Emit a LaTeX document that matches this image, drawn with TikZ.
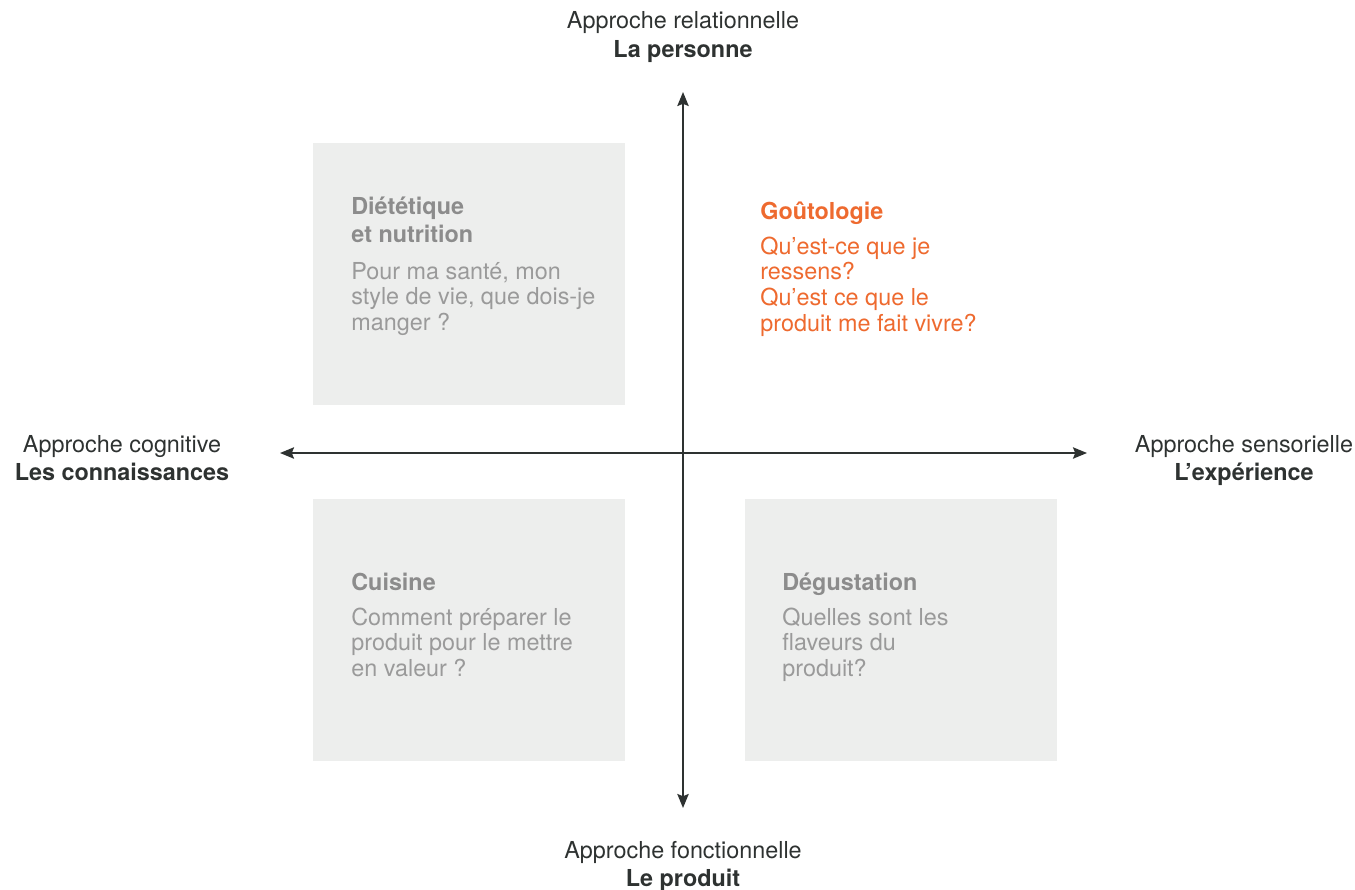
\documentclass[tikz,border=0pt]{standalone}
\usepackage{fontspec}
\setmainfont{TeX Gyre Heros}
\usetikzlibrary{arrows.meta}

\definecolor{encre}{HTML}{2E3231}
\definecolor{grisfond}{HTML}{EDEEED}
\definecolor{gristexte}{HTML}{9A9A9A}
\definecolor{gristitre}{HTML}{8C8C8C}
\definecolor{orangegout}{HTML}{EE6A2F}

% plusieurs lignes, la ligne de base est celle de la premiere
\newcommand{\Lignes}[1]{\begin{tabular}[t]{@{}l@{}}#1\end{tabular}}

\begin{document}
\begin{tikzpicture}[x=0.02cm,y=-0.02cm]
		\tikzstyle{fleche}=[{Stealth[length=8pt,width=6.5pt,inset=1.3pt]}-{Stealth[length=8pt,width=6.5pt,inset=1.3pt]},line width=0.9pt,draw=encre]
		\tikzstyle{quadrant}=[fill=grisfond,minimum width=6.24cm,minimum height=5.24cm,inner sep=0pt]
		\tikzstyle{axe}=[anchor=base,inner sep=0pt,text=encre,font=\fontsize{13.3}{15.6}\selectfont]
		\tikzstyle{axegras}=[axe,font=\fontsize{13.3}{15.6}\selectfont\bfseries]
		\tikzstyle{titre}=[anchor=base west,inner sep=0pt,text=gristitre,font=\fontsize{13.3}{16.4}\selectfont\bfseries]
		\tikzstyle{texte}=[anchor=base west,inner sep=0pt,text=gristexte,font=\fontsize{13.3}{14.75}\selectfont]
		
		\useasboundingbox (0,0) rectangle (1355,889);
		
		\def\CentreX{683}
		\def\CentreY{453}
		
		% les trois cases grises
		\node[quadrant] (Dietetique) at (469,274) {};
		\node[quadrant] (Cuisine) at (469,630) {};
		\node[quadrant] (Degustation) at (901,630) {};
		
		% les axes
		\coordinate (Haut) at (\CentreX,92);
		\coordinate (Bas) at (\CentreX,808);
		\coordinate (Gauche) at (280,\CentreY);
		\coordinate (Droite) at (1087,\CentreY);
		
		\draw[fleche] (Bas)--(Haut);
		\draw[fleche] (Gauche)--(Droite);
		
		\node[axe] (Relationnelle) at (\CentreX,29) {Approche relationnelle};
		\node[axegras] (Personne) at (\CentreX,57) {La personne};
		\node[axe] (Fonctionnelle) at (\CentreX,858) {Approche fonctionnelle};
		\node[axegras] (Produit) at (\CentreX,886) {Le produit};
		\node[axe] (Cognitive) at (122,452) {Approche cognitive};
		\node[axegras] (Connaissances) at (122,480) {Les connaissances};
		\node[axe] (Sensorielle) at (1244,452) {Approche sensorielle};
		\node[axegras] (Experience) at (1244,480) {L’expérience};
		
		% textes des quadrants
		\node[titre] (TitreDietetique) at (351,214) {\Lignes{Diététique\\et nutrition}};
		\node[texte] (TexteDietetique) at (351,279) {\Lignes{Pour ma santé, mon\\style de vie, que dois-je\\manger ?}};
		\node[titre,text=orangegout] (TitreGout) at (760,219) {Goûtologie};
		\node[texte,text=orangegout] (TexteGout) at (760,254) {\Lignes{Qu’est-ce que je\\ressens?\\Qu’est ce que le\\produit me fait vivre?}};
		\node[titre] (TitreCuisine) at (351,590) {Cuisine};
		\node[texte] (TexteCuisine) at (351,625) {\Lignes{Comment préparer le\\produit pour le mettre\\en valeur ?}};
		\node[titre] (TitreDegustation) at (782,590) {Dégustation};
		\node[texte] (TexteDegustation) at (782,625) {\Lignes{Quelles sont les\\flaveurs du\\produit?}};
	\end{tikzpicture}
\end{document}
